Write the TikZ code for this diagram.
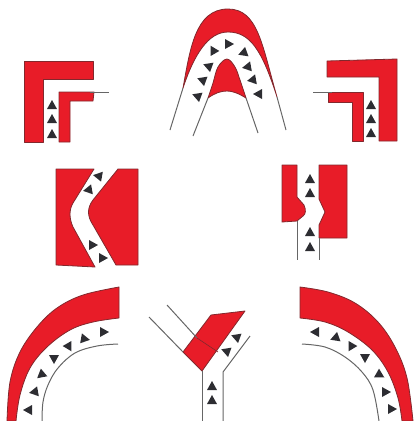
\documentclass[tikz,border=0pt]{standalone}
\usepackage{tikz}

\definecolor{wallred}{RGB}{232,28,40}
\definecolor{walldark}{RGB}{130,40,45}
\definecolor{flowdark}{RGB}{45,45,50}
\tikzset{
	wall/.style={fill=wallred, draw=walldark, line width=0.8pt, line join=round},
	edgeline/.style={draw=black!60, line width=1pt},
	flowmark/.style={fill=flowdark, draw=none},
}
\newcommand{\flowtri}[3]{\fill[flowmark, shift={(#1,#2)}, rotate=#3] (0,-5) -- (5,4) -- (-5,4) -- cycle;}

\begin{document}
\begin{tikzpicture}[x=1pt, y=-1pt]
	\useasboundingbox (0,0) rectangle (414,421);
	% top left corner
	\draw[wall] (24,61) -- (93,61) -- (93,79) -- (43,79) -- (43,142) -- (24,142) -- cycle;
	\draw[wall] (59,92) -- (94,92) -- (93,101) -- (70,101) -- (70,142) -- (59,142) -- cycle;
	\draw[edgeline] (90,92) -- (109,92);
	\flowtri{52}{105}{0} \flowtri{52}{119}{0} \flowtri{52}{134}{0}
	% top right corner
	\draw[wall] (327,61) -- (397,59) -- (397,141) -- (379,141) -- (379,77) -- (327,77) -- cycle;
	\draw[wall] (328,92) -- (363,92) -- (363,141) -- (352,141) -- (352,102) -- (328,102) -- cycle;
	\draw[edgeline] (313,92) -- (332,92);
	\flowtri{371}{105}{0} \flowtri{371}{119}{0} \flowtri{371}{133}{0}
	% top bend
	\draw[wall] (183,88) .. controls (190,50) and (195,9) .. (228,9) .. controls (258,9) and (262,45) .. (277,97)
		.. controls (262,50) and (250,32) .. (228,32) .. controls (208,32) and (194,55) .. (183,88) -- cycle;
	\draw[wall] plot[smooth, tension=0.6] coordinates {(208,98) (213,83) (218,67) (227,59) (235,67) (240,80) (246,98)}
		.. controls (238,93) and (232,91) .. (227,91) .. controls (221,91) and (215,93) .. (208,98) -- cycle;
	\draw[edgeline] (183,88) -- (170,130);
	\draw[edgeline] (277,97) -- (286,130);
	\draw[edgeline] (208,98) -- (193,136);
	\draw[edgeline] (246,98) -- (258,133);
	\flowtri{197}{96}{70} \flowtri{202}{80}{70} \flowtri{208}{66}{70} \flowtri{213}{50}{30}
	\flowtri{229}{44}{-90} \flowtri{243}{53}{110} \flowtri{247}{67}{100} \flowtri{252}{80}{100} \flowtri{258}{94}{90}
	% middle left bend
	\draw[wall] (56,169) -- (94,169) -- (73,203) .. controls (69,210) and (69,218) .. (73,227) -- (95,267) -- (56,265) -- cycle;
	\draw[wall] (118,169) -- (138,169) -- (138,265) -- (116,265) -- (93,225) .. controls (87,216) and (87,208) .. (93,200) -- cycle;
	\flowtri{98}{176}{80} \flowtri{88}{190}{100} \flowtri{93}{245}{-90} \flowtri{103}{258}{-90}
	% middle right narrowing
	\draw[wall] (282,165) -- (297,165) -- (297,197) -- (304,205) .. controls (306,210) and (306,214) .. (303,216) -- (297,221) -- (282,222) -- cycle;
	\draw[wall] (319,165) -- (347,165) -- (347,238) -- (319,238) -- (319,225) -- (325,212) -- (319,199) -- cycle;
	\draw[edgeline] (297,221) -- (297,260);
	\draw[edgeline] (319,238) -- (319,260);
	\flowtri{310}{179}{0} \flowtri{310}{193}{0} \flowtri{310}{232}{0} \flowtri{310}{247}{0}
	% bottom left bend
	\draw[wall] plot[smooth, tension=0.6] coordinates {(119,287) (83,295) (57,308) (37,327) (20,352) (10,382) (7,421)}
		-- plot[smooth, tension=0.6] coordinates {(16,421) (20,395) (30,368) (47,347) (70,330) (93,322) (119,318)} -- cycle;
	\draw[edgeline] plot[smooth, tension=0.6] coordinates {(118,344) (97,346) (75,353) (58,368) (48,385) (43,402) (42,421)};
	\flowtri{28}{410}{90} \flowtri{34}{392}{100} \flowtri{41}{375}{130} \flowtri{54}{359}{180} \flowtri{69}{347}{-150} \flowtri{85}{339}{-100} \flowtri{104}{332}{-90}
	% bottom right bend
	\draw[wall] plot[smooth, tension=0.6] coordinates {(300,287) (328,292) (355,303) (378,322) (395,347) (407,378) (413,421)}
		-- plot[smooth, tension=0.6] coordinates {(402,421) (398,398) (388,372) (372,350) (348,332) (325,322) (300,318)} -- cycle;
	\draw[edgeline] plot[smooth, tension=0.6] coordinates {(302,344) (325,347) (345,357) (362,372) (373,390) (379,421)};
	\flowtri{315}{332}{90} \flowtri{335}{338}{110} \flowtri{351}{347}{150} \flowtri{365}{358}{180} \flowtri{380}{375}{-120} \flowtri{386}{392}{-90} \flowtri{392}{409}{-90}
	% bottom middle junction
	\draw[wall] (183,352) -- (211,315) -- (245,311) -- (202,371) -- cycle;
	\draw[walldark, line width=0.6pt] (197,338) -- (218,352);
	\draw[edgeline] (149,317) -- (183,352);
	\draw[edgeline] (167,305) -- (197,338);
	\draw[edgeline] (202,371) -- (202,421);
	\draw[edgeline] (223,421) -- (223,372) -- (250,336);
	\flowtri{212}{386}{0} \flowtri{212}{400}{0} \flowtri{226}{351}{70} \flowtri{236}{337}{70}
\end{tikzpicture}
\end{document}
